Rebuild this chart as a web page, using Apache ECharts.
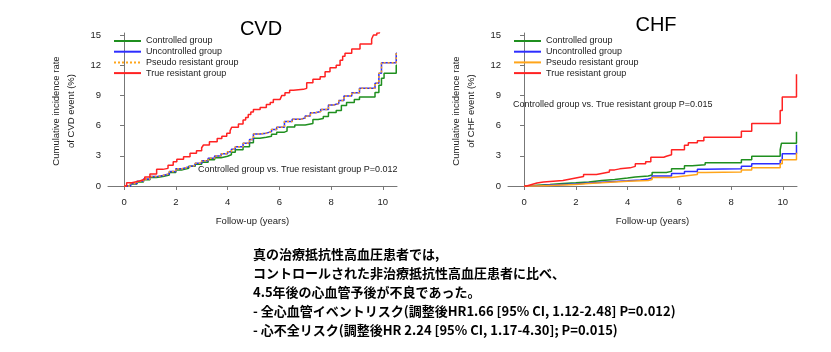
<!DOCTYPE html>
<html>
<head>
<meta charset="utf-8">
<script src="https://cdn.jsdelivr.net/npm/echarts@6/dist/echarts.min.js"></script>
<style>
  html, body { margin: 0; padding: 0; background: #fff; }
  #chart { width: 831px; height: 352px; }
</style>
</head>
<body>
<div id="chart"></div>
<script>
// groups as [years, cumulative %] at each step
const groupNames = ['Controlled group', 'Uncontrolled group', 'Pseudo resistant group', 'True resistant group'];
const groupColors = ['#1f8f1f', '#2d2dff', '#ffa51a', '#ff2222'];

const xTicks = [0, 2, 4, 6, 8, 10];
const yTicks = [0, 3, 6, 9, 12, 15];

const cvdControlled = [[0,0],[0.25,0.2],[0.5,0.4],[0.75,0.62],[1.0,0.85],[1.25,0.95],[1.5,1.1],[1.75,1.35],[2.0,1.6],[2.25,1.75],[2.5,1.95],[2.75,2.15],[3.0,2.35],[3.25,2.6],[3.5,2.8],[3.75,2.95],[4.0,3.1],[4.15,3.35],[4.3,3.6],[4.6,3.9],[4.85,4.3],[5.0,4.75],[5.25,4.85],[5.5,4.95],[5.7,5.15],[5.9,5.35],[6.2,5.45],[6.3,5.85],[6.6,6.05],[7.0,6.2],[7.3,6.6],[7.5,6.7],[7.7,6.9],[7.9,7.3],[8.2,7.5],[8.4,8.0],[8.6,8.3],[8.9,8.6],[9.1,8.85],[9.7,9.3],[9.85,10.0],[9.95,10.7],[10.05,11.2],[10.52,12.0],[10.55,12.0]];
const cvdUncontrolled = [[0,0],[0.25,0.25],[0.5,0.46],[0.75,0.7],[1.0,0.93],[1.25,1.05],[1.5,1.2],[1.75,1.45],[2.0,1.72],[2.25,1.9],[2.5,2.05],[2.75,2.25],[3.0,2.5],[3.25,2.75],[3.5,2.98],[3.75,3.2],[4.0,3.4],[4.15,3.65],[4.3,3.9],[4.6,4.24],[4.85,4.63],[5.0,5.17],[5.25,5.25],[5.5,5.4],[5.7,5.6],[5.9,5.83],[6.2,6.4],[6.5,6.62],[6.8,6.75],[7.0,6.95],[7.2,7.28],[7.4,7.4],[7.6,7.6],[7.9,8.05],[8.1,8.2],[8.3,8.5],[8.5,8.94],[8.8,9.27],[9.1,9.7],[9.7,10.2],[9.85,11.2],[9.95,12.25],[10.52,13.2],[10.55,13.2]];
const cvdPseudo = [[0,0],[0.25,0.25],[0.5,0.46],[0.75,0.7],[1.0,0.93],[1.25,1.05],[1.5,1.2],[1.75,1.45],[2.0,1.72],[2.25,1.9],[2.5,2.05],[2.75,2.25],[3.0,2.5],[3.25,2.75],[3.5,2.98],[3.75,3.2],[4.0,3.4],[4.15,3.65],[4.3,3.9],[4.6,4.24],[4.85,4.63],[5.0,5.17],[5.25,5.25],[5.5,5.4],[5.7,5.6],[5.9,5.83],[6.2,6.4],[6.5,6.62],[6.8,6.75],[7.0,6.95],[7.2,7.28],[7.4,7.4],[7.6,7.6],[7.9,8.05],[8.1,8.2],[8.3,8.5],[8.5,8.94],[8.8,9.27],[9.1,9.7],[9.7,10.2],[9.85,11.2],[9.95,12.25],[10.52,13.2],[10.55,13.2]];
const cvdTrue = [[0,0],[0.1,0.33],[0.3,0.5],[0.6,0.66],[0.8,0.9],[1.0,1.2],[1.26,1.65],[1.5,1.75],[1.7,2.05],[1.9,2.4],[2.04,2.65],[2.3,2.9],[2.55,3.25],[2.8,3.5],[3.0,3.8],[3.07,4.07],[3.3,4.4],[3.6,4.73],[3.78,4.93],[3.97,5.23],[4.1,5.5],[4.16,5.83],[4.42,6.16],[4.6,6.56],[4.7,6.8],[4.8,7.1],[4.9,7.35],[5.0,7.6],[5.26,7.8],[5.5,8.1],[5.65,8.3],[5.77,8.6],[6.03,8.7],[6.1,9.0],[6.22,9.27],[6.4,9.5],[6.55,9.6],[6.93,9.7],[7.06,10.26],[7.3,10.6],[7.58,10.86],[7.77,11.36],[7.96,11.75],[8.2,12.0],[8.35,12.5],[8.45,12.9],[8.54,13.2],[8.8,13.6],[9.12,14.1],[9.57,14.6],[9.64,15.0],[9.77,15.2],[9.87,15.4]];

const chfControlled = [[0,0],[0.25,0.08],[0.5,0.15],[1.0,0.25],[1.5,0.32],[2.0,0.4],[2.5,0.55],[3.0,0.65],[3.5,0.8],[4.0,0.9],[4.3,1.0],[4.8,1.1],[4.95,1.35],[5.5,1.45],[5.7,1.7],[6.2,2.0],[6.5,2.1],[7.0,2.3],[8.4,2.6],[8.8,2.95],[9.9,3.6],[9.95,4.25],[10.53,5.4]];
const chfUncontrolled = [[0,0],[0.5,0.1],[1.0,0.2],[2.0,0.3],[2.5,0.38],[3.0,0.45],[3.5,0.52],[4.0,0.6],[4.5,0.7],[4.8,0.8],[4.95,1.0],[5.7,1.25],[6.2,1.45],[6.7,1.65],[7.0,1.7],[8.4,1.95],[8.8,2.2],[9.9,2.55],[9.98,3.2],[10.53,4.1]];
const chfPseudo = [[0,0],[0.5,0.05],[1.0,0.15],[2.0,0.25],[2.5,0.32],[3.0,0.4],[3.5,0.47],[4.0,0.55],[4.8,0.65],[4.95,0.85],[5.7,1.0],[6.2,1.15],[6.7,1.35],[7.0,1.4],[8.4,1.6],[8.8,1.8],[9.9,2.2],[9.98,2.6],[10.53,3.3]];
const chfTrue = [[0,0],[0.1,0.15],[0.3,0.3],[0.5,0.4],[0.75,0.45],[1.0,0.55],[1.5,0.7],[1.8,0.8],[2.0,0.95],[2.3,1.15],[2.8,1.25],[3.0,1.4],[3.3,1.6],[3.5,1.7],[3.7,1.8],[4.1,1.95],[4.3,2.2],[4.7,2.4],[4.9,2.85],[5.4,2.95],[5.5,3.1],[5.7,3.6],[6.2,4.05],[6.35,4.3],[6.7,4.5],[6.95,4.85],[8.4,5.45],[8.8,6.2],[9.9,7.5],[9.98,8.85],[10.53,11.1]];

const summaryLines = [
  '真の治療抵抗性高血圧患者では,',
  'コントロールされた非治療抵抗性高血圧患者に比べ、',
  '4.5年後の心血管予後が不良であった。',
  '- 全心血管イベントリスク(調整後HR1.66 [95% CI, 1.12-2.48] P=0.012)',
  '- 心不全リスク(調整後HR 2.24 [95% CI, 1.17-4.30]; P=0.015)'
];

const sans = '"Liberation Sans", Arial, sans-serif';
const axisGrey = '#777';

function xAxisFor(grid) {
  return {
    type: 'value', gridIndex: grid, min: -0.62, max: 10.55,
    name: 'Follow-up (years)', nameLocation: 'middle', nameGap: 27,
    nameTextStyle: { fontSize: 9.5, color: '#222', fontFamily: sans },
    axisLine: { show: true, lineStyle: { color: axisGrey, width: 1 } },
    axisTick: { show: true, length: 4, customValues: xTicks, lineStyle: { color: axisGrey } },
    axisLabel: { customValues: xTicks, fontSize: 9.5, color: '#222', margin: 8, fontFamily: sans },
    splitLine: { show: false }
  };
}

function yAxisFor(grid, name) {
  return {
    type: 'value', gridIndex: grid, min: -0.3, max: 15.2,
    name: name, nameLocation: 'middle', nameRotate: 90, nameGap: 29,
    nameTextStyle: { fontSize: 9.5, color: '#222', lineHeight: 15, fontFamily: sans },
    axisLine: { show: true, lineStyle: { color: axisGrey, width: 1 } },
    axisTick: { show: true, length: 4, customValues: yTicks, lineStyle: { color: axisGrey } },
    axisLabel: { customValues: yTicks, fontSize: 9.5, color: '#222', margin: 7, fontFamily: sans },
    splitLine: { show: false }
  };
}

function stepSeries(name, data, grid, color, dotted) {
  return {
    name: name, type: 'line', step: 'end', data: data,
    xAxisIndex: grid, yAxisIndex: grid,
    symbol: 'none', animation: false,
    lineStyle: { color: color, width: 1.5, type: dotted ? [2, 2] : 'solid' },
    itemStyle: { color: color }
  };
}

const cvdData = [cvdControlled, cvdUncontrolled, cvdPseudo, cvdTrue];
const chfData = [chfControlled, chfUncontrolled, chfPseudo, chfTrue];

const series = [];
groupNames.forEach((n, i) => series.push(stepSeries(n, cvdData[i], 0, groupColors[i], i === 2)));
groupNames.forEach((n, i) => series.push(stepSeries(n, chfData[i], 1, groupColors[i], false)));

function legendAt(left, solidPseudo) {
  return {
    left: left, top: 36, orient: 'vertical', padding: 0,
    itemWidth: 27, itemHeight: 8, itemGap: 0.7,
    selectedMode: false,
    itemStyle: { opacity: 0 },
    textStyle: { fontSize: 9, lineHeight: 10, color: '#222', fontFamily: sans },
    data: groupNames.map((n, i) => (i === 2 && solidPseudo)
      ? { name: n, lineStyle: { type: 'solid', color: groupColors[i] } }
      : { name: n })
  };
}

const chart = echarts.init(document.getElementById('chart'), null, { renderer: 'canvas' });
chart.setOption({
  backgroundColor: '#fff',
  animation: false,
  title: [
    { text: 'CVD', left: 256, top: 14, textAlign: 'center', textStyle: { fontSize: 20, fontWeight: 'normal', color: '#000', fontFamily: sans } },
    { text: 'CHF', left: 651, top: 10, textAlign: 'center', textStyle: { fontSize: 20, fontWeight: 'normal', color: '#000', fontFamily: sans } }
  ],
  grid: [
    { left: 108, top: 33, width: 289, height: 156 },
    { left: 508, top: 33, width: 289, height: 156 }
  ],
  xAxis: [xAxisFor(0), xAxisFor(1)],
  yAxis: [
    yAxisFor(0, 'Cumulative incidence rate\nof CVD event (%)'),
    yAxisFor(1, 'Cumulative incidence rate\nof CHF event (%)')
  ],
  legend: [legendAt(113, false), legendAt(513, true)],
  series: series,
  graphic: [
    { type: 'text', left: 198, top: 165, style: { text: 'Controlled group vs. True resistant group P=0.012', font: '9px ' + sans, fill: '#222' } },
    { type: 'text', left: 513, top: 100, style: { text: 'Controlled group vs. True resistant group P=0.015', font: '9px ' + sans, fill: '#222' } },
    { type: 'text', left: 253, top: 245, style: { text: summaryLines.join('\n'), font: 'bold 13px "Noto Sans CJK JP", sans-serif', lineHeight: 19, fill: '#000' } }
  ]
});
</script>
</body>
</html>
